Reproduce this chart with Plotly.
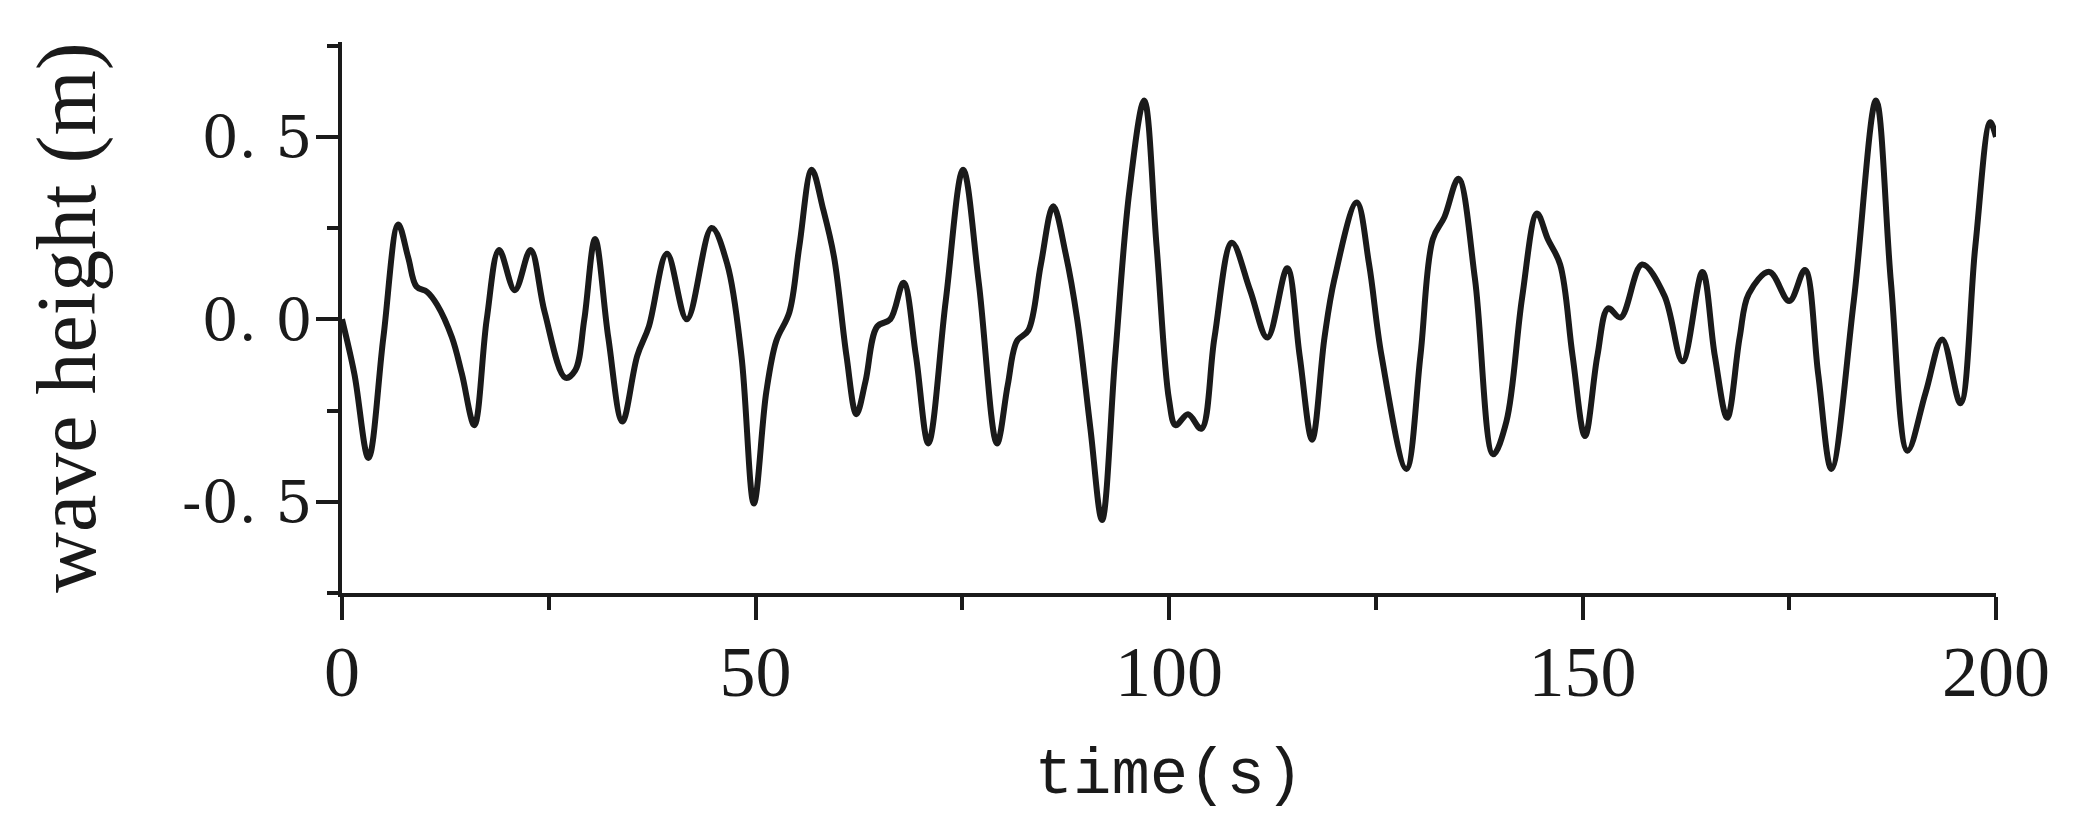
import plotly.graph_objects as go

# time (s) and wave height (m)
time_s = [0.0, 1.5, 3.2, 5.0, 6.8, 8.0, 9.0, 10.3, 11.5, 13.3, 14.5, 16.0, 17.5, 19.0, 20.9, 22.8,
          24.5, 27.0, 28.2, 29.3, 30.6, 32.2, 33.9, 35.7, 37.1, 39.3, 41.7, 44.7, 46.6, 48.3,
          49.8, 51.3, 52.5, 54.1, 55.3, 56.8, 58.2, 59.5, 61.0, 62.2, 63.3, 64.7, 66.3, 67.9,
          69.4, 70.9, 73.0, 75.1, 77.0, 79.2, 80.5, 81.6, 83.0, 84.5, 86.0, 87.5, 88.9, 90.5,
          91.9, 93.5, 95.2, 97.0, 98.5, 100.0, 100.8, 102.3, 103.9, 105.5, 107.6, 109.8, 111.9,
          114.3, 115.8, 117.3, 118.8, 120.0, 122.7, 124.2, 125.7, 128.7, 130.4, 131.9, 133.3,
          135.0, 137.0, 139.2, 140.8, 142.7, 144.5, 145.8, 147.3, 148.8, 150.3, 151.8, 153.1,
          154.6, 157.2, 159.9, 162.1, 164.5, 166.0, 167.5, 169.0, 170.1, 172.6, 175.0, 176.9,
          178.5, 180.1, 182.8, 185.5, 187.3, 189.3, 191.5, 193.5, 195.7, 197.5, 199.3, 200.0]
wave_height = [0.0, -0.15, -0.38, -0.05, 0.26, 0.17, 0.09, 0.075, 0.04, -0.05, -0.15, -0.29, 0.0,
               0.19, 0.08, 0.19, 0.02, -0.16, -0.14, 0.0, 0.22, -0.05, -0.28, -0.10, -0.02, 0.18,
               0.0, 0.25, 0.15, -0.10, -0.505, -0.2, -0.06, 0.02, 0.2, 0.41, 0.3, 0.17, -0.1,
               -0.26, -0.17, -0.02, 0.0, 0.10, -0.1, -0.34, 0.05, 0.41, 0.1, -0.34, -0.18, -0.06,
               -0.03, 0.15, 0.31, 0.18, 0.0, -0.3, -0.55, -0.1, 0.35, 0.60, 0.2, -0.22, -0.29,
               -0.26, -0.30, -0.05, 0.21, 0.08, -0.05, 0.14, -0.1, -0.33, -0.05, 0.11, 0.32, 0.15,
               -0.10, -0.41, -0.1, 0.22, 0.28, 0.385, 0.11, -0.37, -0.28, 0.06, 0.29, 0.22, 0.15,
               -0.1, -0.32, -0.1, 0.03, 0.005, 0.15, 0.065, -0.115, 0.13, -0.1, -0.27, -0.05, 0.07,
               0.13, 0.05, 0.135, -0.15, -0.41, 0.05, 0.60, 0.1, -0.36, -0.2, -0.055, -0.23, 0.2,
               0.54, 0.50]

x_tickvals = [0, 50, 100, 150, 200]
x_ticktext = ["0", "50", "100", "150", "200"]
x_minor = [25, 75, 125, 175]
y_tickvals = [-0.5, 0.0, 0.5]
y_ticktext = ["-0. 5", "0. 0", "0. 5"]
y_minor = [-0.75, -0.25, 0.25, 0.75]

ink = "#1a1a1a"

fig = go.Figure()
fig.add_trace(go.Scatter(
    x=time_s, y=wave_height, mode="lines",
    line=dict(color=ink, width=6, shape="spline", smoothing=1.0),
    showlegend=False,
))

fig.update_layout(
    width=2080, height=834,
    margin=dict(l=334, r=92, t=34, b=249),
    paper_bgcolor="white", plot_bgcolor="white",
    font=dict(family="Liberation Serif", color=ink),
)
fig.update_xaxes(
    range=[0, 200], showgrid=False, zeroline=False,
    showline=True, linecolor=ink, linewidth=4,
    tickmode="array", tickvals=x_tickvals, ticktext=x_ticktext,
    ticks="outside", ticklen=23, tickwidth=3.5, tickcolor=ink,
    ticklabelstandoff=-10,
    tickfont=dict(family="Liberation Serif", size=72, color=ink),
    minor=dict(tickmode="array", tickvals=x_minor, ticks="outside", ticklen=13,
               tickwidth=3.5, tickcolor=ink, showgrid=False),
    title=dict(text="time(s)", font=dict(family="Liberation Mono", size=64, color=ink), standoff=38),
)
fig.update_yaxes(
    range=[-0.75, 0.76], showgrid=False, zeroline=False,
    showline=True, linecolor=ink, linewidth=4,
    tickmode="array", tickvals=y_tickvals, ticktext=y_ticktext,
    ticks="outside", ticklen=22, tickwidth=3.5, tickcolor=ink,
    ticklabelstandoff=-8,
    tickfont=dict(family="DejaVu Serif", size=58, color=ink),
    minor=dict(tickmode="array", tickvals=y_minor, ticks="outside", ticklen=11,
               tickwidth=3.5, tickcolor=ink, showgrid=False),
    title=dict(text="wave height (m)", font=dict(family="Liberation Serif", size=84, color=ink), standoff=60),
)

fig.write_html("out.html")
